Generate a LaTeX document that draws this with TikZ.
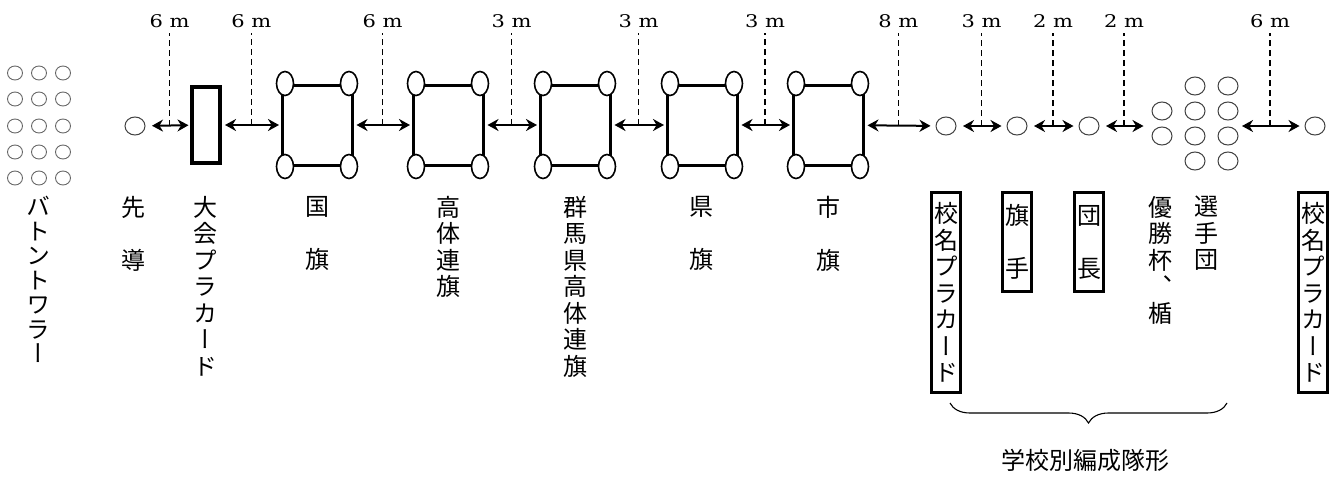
\documentclass[tikz,border=0pt]{standalone}
\usepackage{fontspec}
\newfontfamily\jpfont{Noto Sans CJK JP}
\newfontfamily\jpvert[RawFeature={+vert}]{Noto Sans CJK JP}
\newfontfamily\lenfont[FakeStretch=1.2]{DejaVu Serif}
\usetikzlibrary{calc, shapes.geometric, decorations.pathreplacing, arrows.meta}

\begin{document}
\begin{tikzpicture}[x=1pt, y=-1pt,
  man/.style={ellipse, draw=black!75, line width=1pt, minimum width=20pt, minimum height=18pt, inner sep=0pt, outer sep=4pt},
  twirler/.style={man, draw=black!60, line width=.9pt, minimum width=15pt, minimum height=14pt, outer sep=0pt},
  flag/.style={rectangle, draw, line width=3pt, minimum width=70pt, minimum height=80pt, inner sep=0pt},
  pole/.style={ellipse, draw, fill=white, line width=1.6pt, minimum width=17pt, minimum height=24pt, inner sep=0pt},
  board/.style={rectangle, draw, line width=4pt, minimum width=28pt, minimum height=76pt, inner sep=0pt},
  tate/.style={font=\jpvert\fontsize{24}{26.5}\selectfont, align=center, inner sep=0pt, anchor=north},
  card/.style={tate, draw, line width=3pt, minimum width=29pt},
  lentext/.style={font=\lenfont\fontsize{17.5}{20}\selectfont, inner sep=2pt},
  gapline/.style={line width=2pt, {Stealth[length=11pt,width=12pt]}-{Stealth[length=11pt,width=12pt]}, shorten <=3pt, shorten >=1.5pt},
  guideline/.style={line width=1.5pt, dash pattern=on 6pt off 4pt, shorten >=3pt}]
\useasboundingbox (0,0) rectangle (1343,477);

% baton twirlers and leader
\foreach \x in {15,39,63} \foreach \y in {73,99,126,152,178} \node[twirler] (bt-\x-\y) at (\x,\y) {};
\node[man] (ld) at (135,126) {};
\node[board] (pc) at (206,125) {};

% flags
\foreach \n/\x in {1/317, 2/448, 3/575, 4/702, 5/828} {
  \node[flag] (f\n) at (\x,125) {};
  \foreach \c/\an/\s in {a/north west/4.5, b/south west/4.5, c/north east/-4.5, d/south east/-4.5}
    \node[pole] (f\n\c) at ([xshift=\s pt]f\n.\an) {};
}

% school formation
\node[man] (s1) at (946,126) {};
\node[man] (s2) at (1017,126) {};
\node[man] (s3) at (1089,126) {};
\foreach \x/\y [count=\k] in {1162/111, 1162/136, 1195/86, 1195/111, 1195/136, 1195/161, 1228/86, 1228/111, 1228/136, 1228/161}
  \node[man] (t\k) at (\x,\y) {};
\coordinate (tw) at (1145,126);
\coordinate (te) at (1239,126);
\node[man] (s4) at (1315,126) {};

% distances
\foreach \p/\q/\len [count=\i] in {ld/pc/6, pc/f1/6, f1/f2/6, f2/f3/3, f3/f4/3, f4/f5/3, f5/s1/8, s1/s2/3, s2/s3/2, s3/tw/2, te/s4/6} {
  \draw[gapline] (\p) -- (\q) coordinate[midway] (m\i);
  \node[lentext] (l\i) at (m\i |- 0,21) {\len\ m};
  \draw[guideline] (m\i) -- (l\i);
}

% names
\node[tate, font=\jpvert\fontsize{24}{24.5}\selectfont] (n1) at (38,196) {バ\\ト\\ン\\ト\\ワ\\ラ\\ー};
\node[tate] (n2) at (133,196) {先\\　\\導};
\node[tate] (n3) at (205,196) {大\\会\\プ\\ラ\\カ\\ー\\ド};
\node[tate] (n4) at (317,196) {国\\　\\旗};
\node[tate] (n5) at (448,196) {高\\体\\連\\旗};
\node[tate] (n6) at (575,196) {群\\馬\\県\\高\\体\\連\\旗};
\node[tate] (n7) at (701,196) {県\\　\\旗};
\node[tate] (n8) at (828,196) {市\\　\\旗};
\node[card, minimum height=200pt] (n9) at (946,191) {校\\名\\プ\\ラ\\カ\\ー\\ド};
\node[card, minimum height=99pt] (n10) at (1017,191) {旗\\　\\手};
\node[card, minimum height=99pt] (n11) at (1089,191) {団\\　\\長};
\node[tate] (n12) at (1160,196) {優\\勝\\杯\\、\\楯};
\node[tate] (n13) at (1206,196) {選\\手\\団};
\node[card, minimum height=200pt] (n14) at (1313,191) {校\\名\\プ\\ラ\\カ\\ー\\ド};

% school group
\coordinate (bl) at (950,403);
\coordinate (br) at (1227,403);
\draw[decorate, decoration={brace, mirror, amplitude=20pt}, line width=1.1pt] (bl) -- (br);
\node[font=\jpfont\fontsize{24}{26}\selectfont] (grp) at (1085,460) {学校別編成隊形};
\end{tikzpicture}
\end{document}
